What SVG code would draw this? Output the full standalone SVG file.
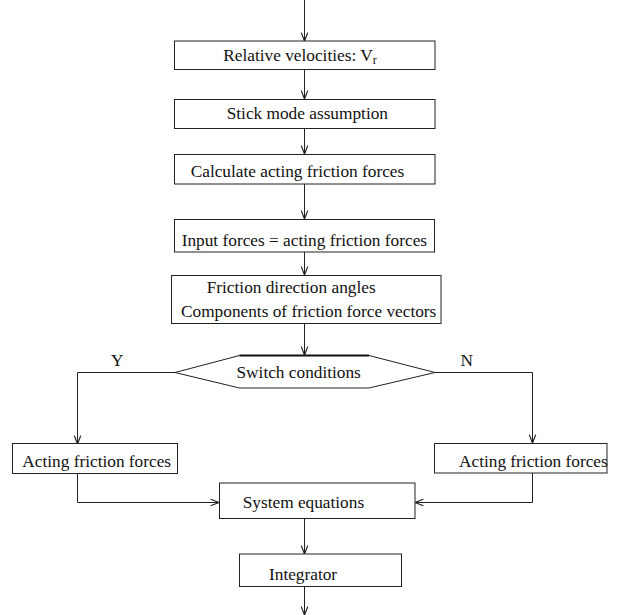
<svg xmlns="http://www.w3.org/2000/svg" width="618" height="615" viewBox="0 0 618 615">
<style>
.box{fill:#fff;stroke:#222;stroke-width:1}
.t{font-family:"Liberation Serif","Times New Roman",serif;font-size:17.3px;fill:#111}
.sub{font-size:12px}
.c{fill:none;stroke:#222;stroke-width:1}
</style>
<defs>
<marker id="ah" markerUnits="userSpaceOnUse" markerWidth="12" markerHeight="10" viewBox="-8 -4 10 8" refX="0" refY="0" orient="auto">
<path d="M-7,-2.7 L0,0 L-7,2.7" fill="none" stroke="#222" stroke-width="1"/>
</marker>
</defs>
<rect width="618" height="615" fill="#fff"/>
<g id="connectors">
<path class="c" d="M304.5,0 V41" marker-end="url(#ah)"/>
<path class="c" d="M304.5,69 V99" marker-end="url(#ah)"/>
<path class="c" d="M304.5,128 V154" marker-end="url(#ah)"/>
<path class="c" d="M304.5,184 V219" marker-end="url(#ah)"/>
<path class="c" d="M304.5,252 V275" marker-end="url(#ah)"/>
<path class="c" d="M304.5,323 V355" marker-end="url(#ah)"/>
<path class="c" d="M175,372.5 H77.5 V444" marker-end="url(#ah)"/>
<path class="c" d="M435,372.5 H532.5 V443" marker-end="url(#ah)"/>
<path class="c" d="M77.5,473 V502.5 H219" marker-end="url(#ah)"/>
<path class="c" d="M532.5,473 V502.5 H415" marker-end="url(#ah)"/>
<path class="c" d="M304.5,518 V554" marker-end="url(#ah)"/>
<path class="c" d="M304.5,587 V615" marker-end="url(#ah)"/>
</g>
<g id="n1"><rect class="box" x="174.5" y="41" width="260.5" height="28.5"/><text class="t" x="223.3" y="60.7">Relative velocities: V<tspan class="sub" dy="3">r</tspan></text></g>
<g id="n2"><rect class="box" x="174.5" y="99.5" width="260.5" height="29"/><text class="t" x="226.7" y="119">Stick mode assumption</text></g>
<g id="n3"><rect class="box" x="174.5" y="154.5" width="260.5" height="29.5"/><text class="t" x="190.7" y="176.7">Calculate acting friction forces</text></g>
<g id="n4"><rect class="box" x="174.5" y="219.5" width="260" height="32.5"/><text class="t" x="181.7" y="245.7">Input forces = acting friction forces</text></g>
<g id="n5"><rect class="box" x="171.5" y="275.5" width="269.5" height="48"/><text class="t" x="206.7" y="292.7">Friction direction angles</text><text class="t" x="181" y="316.7">Components of friction force vectors</text></g>
<g id="n6"><polygon class="box" points="175,372.5 239.5,355.5 369,355.5 435,372.5 369,388 239.5,388"/><line x1="239.5" y1="355.5" x2="369" y2="355.5" stroke="#111" stroke-width="2"/><text class="t" x="236.5" y="378.3">Switch conditions</text></g>
<g id="lblY"><text class="t" x="111" y="366">Y</text></g>
<g id="lblN"><text class="t" x="460.5" y="366">N</text></g>
<g id="n7"><rect class="box" x="12.5" y="443.5" width="165" height="30"/><text class="t" x="22.3" y="466.7">Acting friction forces</text></g>
<g id="n8"><rect class="box" x="434.5" y="443.5" width="172.5" height="29.5"/><text class="t" x="459" y="466.7">Acting friction forces</text></g>
<g id="n9"><rect class="box" x="219.5" y="483" width="195.5" height="35.5"/><text class="t" x="242.7" y="508.3">System equations</text></g>
<g id="n10"><rect class="box" x="239.5" y="554" width="162" height="32.5"/><text class="t" x="269" y="580">Integrator</text></g>
</svg>
